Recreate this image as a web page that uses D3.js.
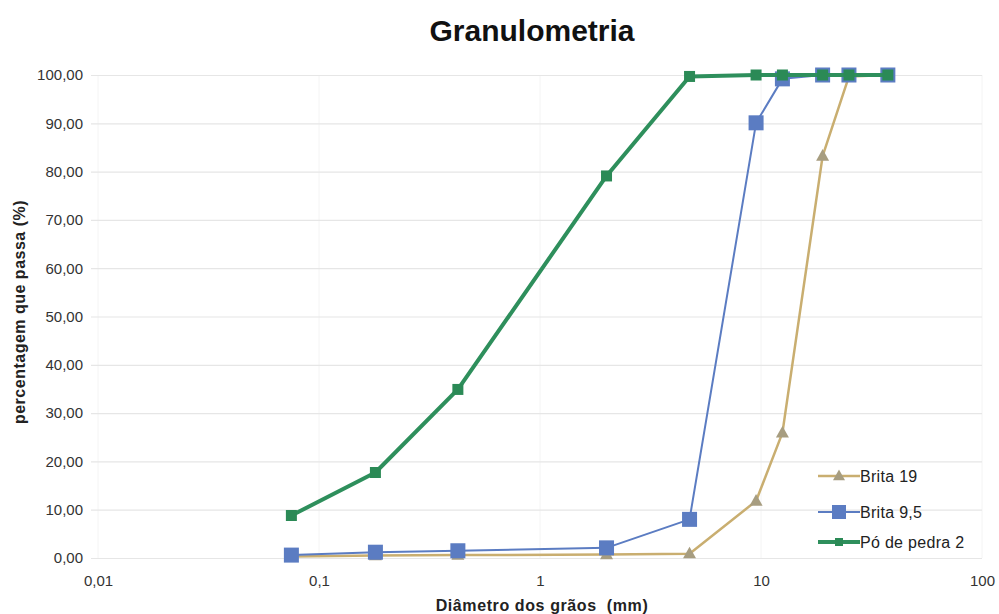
<!DOCTYPE html>
<html>
<head>
<meta charset="utf-8">
<script src="https://cdn.jsdelivr.net/npm/d3@7"></script>
<style>
  html, body { margin: 0; padding: 0; background: #fff; }
  svg { display: block; font-family: "Liberation Sans", Arial, sans-serif; }
</style>
</head>
<body>
<svg id="chart" width="999" height="614"></svg>
<script>
// Sieve openings (mm) and percent passing for each material
const sieveSizes = [0.075, 0.18, 0.425, 2.0, 4.75, 9.5, 12.5, 19, 25, 37.5];
const brita19    = [0.3, 0.5, 0.6, 0.7, 0.9, 11.8, 25.9, 83.2, 99.7, 100];
const brita95    = [0.6, 1.2, 1.5, 2.1, 8.0, 90.1, 99.2, 100, 100, 100];
const poDePedra2 = [8.8, 17.7, 34.9, 79.1, 99.7, 100, 100, 100, 100, 100];

const seriesNames = ["Brita 19", "Brita 9,5", "Pó de pedra 2"];
const xTicks = [0.01, 0.1, 1, 10, 100];
const xTickLabels = ["0,01", "0,1", "1", "10", "100"];
const yTicks = [0, 10, 20, 30, 40, 50, 60, 70, 80, 90, 100];

const svg = d3.select("#chart");
const plotLeft = 98, plotRight = 982, plotTop = 75, plotBottom = 558;

const x = d3.scaleLog().domain([0.01, 100]).range([plotLeft, plotRight]);
const y = d3.scaleLinear().domain([0, 100]).range([plotBottom, plotTop]);

const ptBR = d3.formatLocale({ decimal: ",", thousands: ".", grouping: [3], currency: ["R$", ""] });
const fmtY = ptBR.format(".2f");

// Title
svg.append("text")
  .attr("x", 532).attr("y", 41)
  .attr("text-anchor", "middle")
  .attr("font-size", 30).attr("font-weight", "bold").attr("fill", "#111")
  .text("Granulometria");

// Vertical gridlines at each decade
svg.append("g").selectAll("line").data(xTicks).join("line")
  .attr("x1", d => x(d)).attr("x2", d => x(d))
  .attr("y1", plotTop).attr("y2", plotBottom)
  .attr("stroke", "#f4f4f4").attr("stroke-width", 1);

// Horizontal gridlines + y axis labels
const yAxis = d3.axisLeft(y)
  .tickValues(yTicks)
  .tickFormat(fmtY)
  .tickSize(-(plotRight - plotLeft + 7))
  .tickPadding(8);
const gy = svg.append("g").attr("transform", `translate(${plotLeft - 7},0)`).call(yAxis);
gy.select(".domain").remove();
gy.selectAll(".tick line").attr("stroke", "#e6e6e6").attr("stroke-width", 1.2);
gy.selectAll(".tick text")
  .attr("font-size", 15).attr("fill", "#333")
  .attr("font-family", "Liberation Sans, Arial, sans-serif");

// X axis labels
const xAxis = d3.axisBottom(x)
  .tickValues(xTicks)
  .tickFormat((d, i) => xTickLabels[i])
  .tickSize(0)
  .tickPadding(17);
const gx = svg.append("g").attr("transform", `translate(0,${plotBottom})`).call(xAxis);
gx.select(".domain").remove();
gx.selectAll(".tick text")
  .attr("font-size", 15).attr("fill", "#333")
  .attr("font-family", "Liberation Sans, Arial, sans-serif");

// Axis titles
svg.append("text")
  .attr("x", 542).attr("y", 611)
  .attr("text-anchor", "middle")
  .attr("font-size", 16).attr("font-weight", "bold").attr("fill", "#222")
  .attr("letter-spacing", 0.6)
  .attr("xml:space", "preserve")
  .text("Diâmetro dos grãos  (mm)");

svg.append("text")
  .attr("transform", "translate(25,312) rotate(-90)")
  .attr("text-anchor", "middle")
  .attr("font-size", 16).attr("font-weight", "bold").attr("fill", "#222")
  .attr("letter-spacing", 0.5)
  .text("percentagem que passa (%)");

// Series definitions (drawn in order, green on top)
const series = [
  { name: seriesNames[0], values: brita19, line: "#c9ae70", marker: "#a79d80", width: 2.5, shape: "triangle", size: 13 },
  { name: seriesNames[1], values: brita95, line: "#5b7cc2", marker: "#5b7cc2", width: 2, shape: "square", size: 15 },
  { name: seriesNames[2], values: poDePedra2, line: "#2e8f5c", marker: "#2b8a56", width: 4, shape: "square", size: 11 }
];

const lineGen = d3.line().x(d => x(d[0])).y(d => y(d[1]));

function drawMarker(g, shape, size, color) {
  if (shape === "square") {
    g.append("rect")
      .attr("x", -size / 2).attr("y", -size / 2)
      .attr("width", size).attr("height", size)
      .attr("fill", color);
  } else {
    const h = size * 0.9;
    g.append("path")
      .attr("d", `M0,${-h * 0.6} L${size / 2},${h * 0.4} L${-size / 2},${h * 0.4} Z`)
      .attr("fill", color);
  }
}

series.forEach(s => {
  const pts = sieveSizes.map((d, i) => [d, s.values[i]]);
  const g = svg.append("g");
  g.append("path")
    .attr("d", lineGen(pts))
    .attr("fill", "none")
    .attr("stroke", s.line)
    .attr("stroke-width", s.width)
    .attr("stroke-linejoin", "round");
  pts.forEach(p => {
    const m = g.append("g").attr("transform", `translate(${x(p[0])},${y(p[1])})`);
    drawMarker(m, s.shape, s.size, s.marker);
  });
});

// Legend
const legendY = [476, 512, 542];
series.forEach((s, i) => {
  const g = svg.append("g").attr("transform", `translate(818,${legendY[i]})`);
  g.append("line")
    .attr("x1", 0).attr("x2", 42).attr("y1", 0).attr("y2", 0)
    .attr("stroke", s.line).attr("stroke-width", s.width);
  const m = g.append("g").attr("transform", "translate(21,0)");
  drawMarker(m, s.shape, s.shape === "square" && i === 2 ? 8 : s.size - 1, s.marker);
  g.append("text")
    .attr("x", 42).attr("y", 6)
    .attr("font-size", 16).attr("fill", "#222")
    .attr("letter-spacing", 0.3)
    .text(s.name);
});
</script>
</body>
</html>
